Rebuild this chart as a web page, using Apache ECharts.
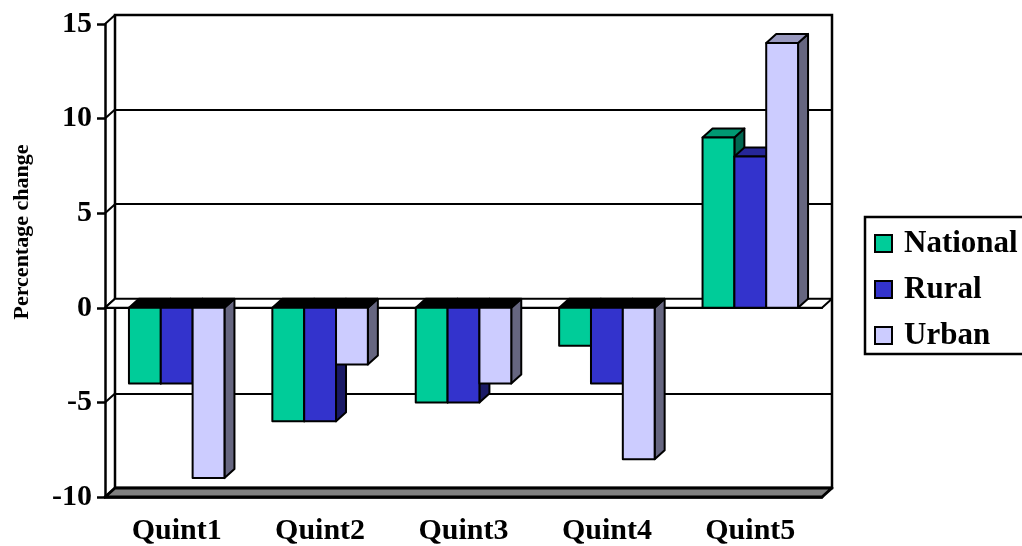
<!DOCTYPE html>
<html>
<head>
<meta charset="utf-8">
<script src="https://cdn.jsdelivr.net/npm/echarts@6/dist/echarts.min.js"></script>
<style>
  html, body { margin: 0; padding: 0; background: #fff; }
  #chart { width: 1022px; height: 546px; }
</style>
</head>
<body>
<div id="chart"></div>
<script>
  // data
  var categories = ['Quint1', 'Quint2', 'Quint3', 'Quint4', 'Quint5'];
  var national = [-4, -6, -5, -2, 9];
  var rural = [-4, -6, -5, -4, 8];
  var urban = [-9, -3, -4, -8, 14];
  var yTicks = [-10, -5, 0, 5, 10, 15];

  var FONT = '"Liberation Serif", "Times New Roman", serif';
  var DX = 10, DY = -9;          // pseudo-3D depth offset (px)
  var BAR_START = 0.167, BAR_W = 0.222;

  var groups = [
    { name: 'National', data: national, front: '#00CC99', side: '#006650', top: '#009973' },
    { name: 'Rural', data: rural, front: '#3333CC', side: '#1A1A66', top: '#262699' },
    { name: 'Urban', data: urban, front: '#CCCCFF', side: '#666680', top: '#9999BF' }
  ];

  function poly(points, fill, lw) {
    return {
      type: 'polygon',
      shape: { points: points },
      style: { fill: fill, stroke: '#000', lineWidth: lw || 2, lineJoin: 'round' }
    };
  }

  function barRenderer(slot, g) {
    return function (params, api) {
      var i = api.value(0), v = api.value(1);
      var band = api.size([1, 0])[0];
      var c = api.coord([i, 0]);
      var x0 = c[0] - band / 2 + band * BAR_START + slot * band * BAR_W;
      var x1 = x0 + band * BAR_W;
      var y0 = c[1];
      var yv = api.coord([i, v])[1];
      var yt = Math.min(y0, yv), yb = Math.max(y0, yv);
      var topFill = v >= 0 ? g.top : '#000';
      return {
        type: 'group',
        children: [
          poly([[x1, yt], [x1 + DX, yt + DY], [x1 + DX, yb + DY], [x1, yb]], g.side),
          poly([[x0, yt], [x1, yt], [x1 + DX, yt + DY], [x0 + DX, yt + DY]], topFill),
          poly([[x0, yt], [x1, yt], [x1, yb], [x0, yb]], g.front)
        ]
      };
    };
  }

  // floor at the bottom of the value axis
  function floorRenderer(params, api) {
    var cs = params.coordSys;
    var y = api.coord([0, yTicks[0]])[1];
    return poly([[cs.x, y], [cs.x + cs.width, y], [cs.x + cs.width + DX, y + DY], [cs.x + DX, y + DY]], '#808080', 3);
  }

  // thin plane where the category axis crosses zero
  function zeroRenderer(params, api) {
    var cs = params.coordSys;
    var y = api.coord([0, 0])[1];
    return poly([[cs.x, y], [cs.x + cs.width, y], [cs.x + cs.width + DX, y + DY], [cs.x + DX, y + DY]], '#fff', 2);
  }

  // side wall lines joining the front axis ticks to the back wall
  function sideRenderer(params, api) {
    var cs = params.coordSys;
    var y = api.coord([0, api.value(1)])[1];
    return {
      type: 'line',
      shape: { x1: cs.x, y1: y, x2: cs.x + DX, y2: y + DY },
      style: { stroke: '#000', lineWidth: 2 }
    };
  }

  var series = [
    {
      type: 'custom', xAxisIndex: 0, yAxisIndex: 0, clip: false, silent: true,
      data: yTicks.map(function (v) { return [0, v]; }), renderItem: sideRenderer
    },
    {
      type: 'custom', xAxisIndex: 0, yAxisIndex: 0, clip: false, silent: true,
      data: [[0, 0]], renderItem: floorRenderer
    },
    {
      type: 'custom', xAxisIndex: 0, yAxisIndex: 0, clip: false, silent: true,
      data: [[0, 0]], renderItem: zeroRenderer
    }
  ];
  groups.forEach(function (g, k) {
    series.push({
      name: g.name,
      type: 'custom',
      xAxisIndex: 0,
      yAxisIndex: 0,
      clip: false,
      itemStyle: { color: g.front },
      data: g.data.map(function (v, i) { return [i, v]; }),
      encode: { x: 0, y: 1 },
      renderItem: barRenderer(k, g)
    });
  });

  var chart = echarts.init(document.getElementById('chart'));
  chart.setOption({
    animation: false,
    backgroundColor: '#fff',
    grid: [
      { left: 105, right: 200, top: 24, bottom: 49, outerBoundsMode: 'none' },
      { left: 115, right: 190, top: 15, bottom: 58, outerBoundsMode: 'none',
        show: true, borderColor: '#000', borderWidth: 2.5, backgroundColor: 'transparent' }
    ],
    xAxis: [
      {
        gridIndex: 0, type: 'category', data: categories, position: 'bottom',
        axisLine: { onZero: false, lineStyle: { color: '#000', width: 2.5 } },
        axisTick: { length: 9, lineStyle: { color: '#000', width: 2.5 } },
        axisLabel: { interval: 0, margin: 19, color: '#000', fontFamily: FONT, fontWeight: 'bold', fontSize: 30 },
        splitLine: { show: false }
      },
      {
        gridIndex: 0, type: 'category', data: categories, position: 'bottom',
        axisLine: { onZero: true, lineStyle: { color: '#000', width: 2 } },
        axisTick: { length: 9, lineStyle: { color: '#000', width: 2.5 } },
        axisLabel: { show: false },
        splitLine: { show: false }
      },
      { gridIndex: 1, type: 'category', data: categories, show: false }
    ],
    yAxis: [
      {
        gridIndex: 0, type: 'value', min: -10, max: 15, interval: 5,
        axisLine: { show: true, lineStyle: { color: '#000', width: 2.5 } },
        axisTick: { show: true, length: 8, lineStyle: { color: '#000', width: 2.5 } },
        axisLabel: { margin: 13, color: '#000', fontFamily: FONT, fontWeight: 'bold', fontSize: 30 },
        splitLine: { show: false }
      },
      {
        gridIndex: 1, type: 'value', min: -10, max: 15, interval: 5,
        axisLine: { show: false }, axisTick: { show: false }, axisLabel: { show: false },
        splitLine: { show: true, lineStyle: { color: '#000', width: 2 } }
      }
    ],
    legend: {
      data: ['National', 'Rural', 'Urban'],
      orient: 'vertical',
      left: 865,
      top: 217,
      padding: [11, 10, 6, 9],
      itemWidth: 17,
      itemHeight: 17,
      itemGap: 15,
      icon: 'rect',
      borderWidth: 0,
      itemStyle: { borderColor: '#000', borderWidth: 2 },
      textStyle: { color: '#000', fontFamily: FONT, fontWeight: 'bold', fontSize: 31, lineHeight: 31, padding: [0, 0, 0, 7] }
    },
    graphic: [
      {
        // legend frame, runs off the right edge as in the reference
        type: 'rect',
        shape: { x: 865, y: 217, width: 190, height: 137 },
        style: { fill: 'none', stroke: '#000', lineWidth: 2.5 },
        silent: true
      },
      {
        type: 'text',
        x: 22,
        y: 232,
        rotation: Math.PI / 2,
        style: {
          text: 'Percentage change',
          fill: '#000',
          font: 'bold 22px ' + FONT,
          textAlign: 'center',
          textVerticalAlign: 'middle'
        }
      }
    ],
    series: series
  });
</script>
</body>
</html>
